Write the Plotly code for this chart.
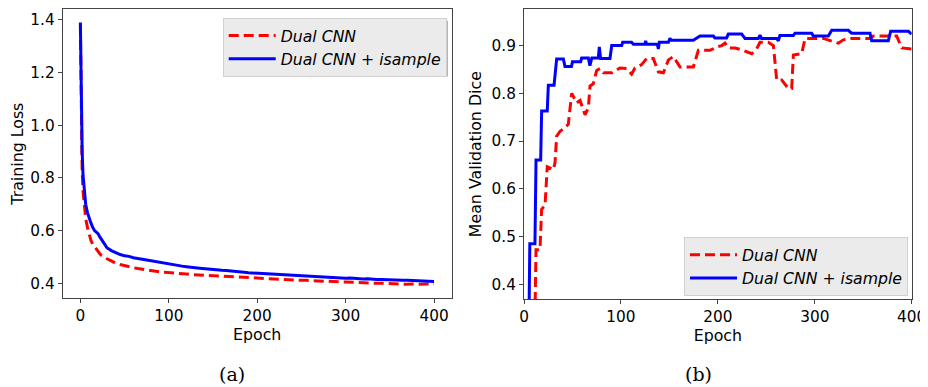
import plotly.graph_objects as go

# ---------------- Data: (a) training loss ----------------
loss_epochs = [0, 1, 2, 3, 4, 5, 6, 8, 10, 12, 14, 16, 18, 20, 22, 24, 26, 28] + list(range(30, 401, 5))
loss_dual = [1.38, 1.00, 0.83, 0.75, 0.705, 0.67, 0.645, 0.612, 0.585, 0.562, 0.548, 0.538, 0.528, 0.520, 0.512, 0.505, 0.500, 0.496,
             0.493, 0.485, 0.476, 0.471, 0.466, 0.463, 0.459, 0.456, 0.453, 0.451, 0.447, 0.446, 0.443, 0.442, 0.441, 0.438,
             0.437, 0.436, 0.435, 0.433, 0.432, 0.432, 0.430, 0.429, 0.428, 0.428, 0.426, 0.427, 0.425, 0.424, 0.423, 0.423,
             0.421, 0.421, 0.419, 0.419, 0.418, 0.417, 0.416, 0.415, 0.414, 0.414, 0.413, 0.412, 0.411, 0.411, 0.410, 0.409,
             0.408, 0.408, 0.407, 0.406, 0.406, 0.405, 0.405, 0.404, 0.403, 0.403, 0.402, 0.401, 0.401, 0.400, 0.400, 0.399,
             0.398, 0.399, 0.397, 0.397, 0.396, 0.397, 0.396, 0.396, 0.397, 0.396, 0.397]
loss_isample = [1.39, 1.08, 0.90, 0.81, 0.76, 0.725, 0.700, 0.668, 0.645, 0.628, 0.612, 0.600, 0.594, 0.588, 0.576, 0.565, 0.556, 0.546,
                0.535, 0.524, 0.516, 0.509, 0.504, 0.502, 0.497, 0.495, 0.491, 0.488, 0.485, 0.481, 0.478, 0.476, 0.472, 0.469,
                0.466, 0.465, 0.463, 0.460, 0.459, 0.457, 0.455, 0.454, 0.452, 0.451, 0.449, 0.448, 0.447, 0.446, 0.443, 0.442,
                0.440, 0.439, 0.437, 0.436, 0.435, 0.436, 0.434, 0.432, 0.431, 0.431, 0.429, 0.428, 0.427, 0.428, 0.426, 0.425,
                0.424, 0.424, 0.422, 0.422, 0.421, 0.420, 0.419, 0.420, 0.418, 0.417, 0.416, 0.417, 0.415, 0.414, 0.414, 0.413,
                0.413, 0.412, 0.412, 0.411, 0.411, 0.410, 0.410, 0.409, 0.409, 0.408, 0.407]

# ---------------- Data: (b) validation dice ----------------
dice_dual_x = [11, 12.4, 16.5, 18.2, 21.7, 24, 30.3, 32, 33.7, 37, 43.3, 45.7, 49.2, 54.3, 57.8, 63, 66.4, 68.1, 71.5, 75,
               78.4, 81.9, 90.5, 99, 106, 111, 114.5, 121.4, 126.6, 133.4, 138.6, 143.8, 149, 154, 161, 174.7, 179.9, 192,
               198.8, 204, 207.4, 210.8, 217.7, 226.3, 235, 240, 243.5, 252, 257.3, 260.7, 265.9, 272.7, 276.2, 277.9,
               286.5, 290, 308.8, 315.7, 324.3, 329.5, 338.1, 357, 360.4, 384.5, 389.7, 400]
dice_dual_y = [0.30, 0.472, 0.472, 0.557, 0.565, 0.646, 0.640, 0.655, 0.710, 0.720, 0.730, 0.735, 0.800, 0.780, 0.785, 0.755,
               0.770, 0.815, 0.820, 0.848, 0.852, 0.843, 0.843, 0.853, 0.852, 0.840, 0.853, 0.860, 0.873, 0.873, 0.845, 0.843,
               0.870, 0.877, 0.855, 0.855, 0.890, 0.890, 0.897, 0.900, 0.905, 0.895, 0.895, 0.890, 0.883, 0.893, 0.907, 0.907,
               0.900, 0.828, 0.828, 0.810, 0.810, 0.880, 0.883, 0.915, 0.915, 0.910, 0.905, 0.912, 0.915, 0.915, 0.920, 0.920,
               0.895, 0.893]
dice_isample_x = [5, 6, 11.3, 12.4, 17.2, 18.2, 24, 25.1, 31, 32, 33.7, 40.6, 42.3, 49, 50, 58.5, 59.5, 66.4, 68, 70, 76.7,
                  77.7, 79, 88.7, 90.5, 100.8, 101.8, 111, 112.8, 124.8, 125.5, 126.5, 137.6, 138.6, 139.6, 149, 150.6, 152,
                  174.7, 181.6, 195.4, 197, 209, 210.8, 224.6, 228, 241.8, 243.5, 245, 260.7, 262.4, 264, 277.9, 279.6, 296.8,
                  298.5, 314, 317.5, 334.6, 338, 357, 358.7, 375.9, 378.3, 396.6, 400]
dice_isample_y = [0.30, 0.485, 0.485, 0.660, 0.660, 0.763, 0.763, 0.817, 0.817, 0.835, 0.872, 0.872, 0.856, 0.856, 0.866,
                  0.866, 0.874, 0.874, 0.858, 0.874, 0.874, 0.897, 0.873, 0.873, 0.900, 0.900, 0.907, 0.907, 0.903, 0.903,
                  0.910, 0.903, 0.903, 0.893, 0.907, 0.907, 0.915, 0.911, 0.911, 0.920, 0.920, 0.916, 0.916, 0.924, 0.924,
                  0.915, 0.915, 0.922, 0.915, 0.915, 0.910, 0.921, 0.921, 0.926, 0.926, 0.920, 0.920, 0.932, 0.932, 0.926,
                  0.926, 0.910, 0.910, 0.930, 0.930, 0.924]

series_names = ["<i>Dual CNN</i>", "<i>Dual CNN + isample</i>"]
x_ticks = [0, 100, 200, 300, 400]
loss_ticks = [0.4, 0.6, 0.8, 1.0, 1.2, 1.4]
dice_ticks = [0.4, 0.5, 0.6, 0.7, 0.8, 0.9]

RED = "#ff0000"
BLUE = "#0000ff"
FONT = "DejaVu Sans"
TICK_FS = 15.3
TITLE_FS = 15.8
LEGEND_FS = 15.7

W, H = 920, 379  # page body adds an 8px offset inside the 928x387 window


def px_x(x):
    return (x - 8) / W


def px_y(y):
    return 1 - (y - 8) / H


fig = go.Figure()
fig.add_trace(go.Scatter(x=loss_epochs, y=loss_dual, mode="lines", name=series_names[0],
                         line=dict(color=RED, width=3, dash="10px,5px"), xaxis="x", yaxis="y", legend="legend"))
fig.add_trace(go.Scatter(x=loss_epochs, y=loss_isample, mode="lines", name=series_names[1],
                         line=dict(color=BLUE, width=3), xaxis="x", yaxis="y", legend="legend"))
fig.add_trace(go.Scatter(x=dice_dual_x, y=dice_dual_y, mode="lines", name=series_names[0],
                         line=dict(color=RED, width=3, dash="10px,5px"), xaxis="x2", yaxis="y2", legend="legend2"))
fig.add_trace(go.Scatter(x=dice_isample_x, y=dice_isample_y, mode="lines", name=series_names[1],
                         line=dict(color=BLUE, width=3), xaxis="x2", yaxis="y2", legend="legend2"))

title_font = dict(family=FONT, size=TITLE_FS, color="black")
axis_common = dict(showline=True, linecolor="#444", linewidth=1, mirror=True, ticks="outside", ticklen=4,
                   tickcolor="#444", showgrid=False, zeroline=False, automargin=False,
                   tickfont=dict(family=FONT, size=TICK_FS, color="black"))

legend_common = dict(bgcolor="#ebebeb", bordercolor="#d0d0d0", borderwidth=1,
                     font=dict(family=FONT, size=LEGEND_FS, color="black"), itemwidth=47,
                     xanchor="left", yanchor="top", tracegroupgap=0)

# legend drop shadows (boxes measured in window pixels)
shadow_boxes = [(222.7, 17.7, 445, 73.3), (684, 237, 905, 292)]
shapes = []
for (x0, y0, x1, y1) in shadow_boxes:
    shapes.append(dict(type="rect", xref="paper", yref="paper",
                       x0=px_x(x0 + 3), x1=px_x(x1 + 3), y0=px_y(y1 + 3), y1=px_y(y0 + 3),
                       fillcolor="#b4b4b4", line=dict(width=0), layer="above"))

fig.update_layout(
    width=W, height=H,
    margin=dict(l=0, r=0, t=0, b=0),
    paper_bgcolor="white", plot_bgcolor="white",
    showlegend=True,
    xaxis=dict(domain=[px_x(62.7), px_x(451.7)], range=[-20, 420], tickvals=x_ticks, anchor="y",
               title=dict(text="Epoch", font=title_font, standoff=4), **axis_common),
    yaxis=dict(domain=[px_y(298), px_y(9.3)], range=[0.344, 1.44], tickvals=loss_ticks, tickformat=".1f", anchor="x",
               title=dict(text="Training Loss", font=title_font, standoff=6), **axis_common),
    xaxis2=dict(domain=[px_x(524), px_x(911.7)], range=[0, 400], tickvals=x_ticks, anchor="y2",
                title=dict(text="Epoch", font=title_font, standoff=4), **axis_common),
    yaxis2=dict(domain=[px_y(299), px_y(9.3)], range=[0.369, 0.976], tickvals=dice_ticks, tickformat=".1f", anchor="x2",
                title=dict(text="Mean Validation Dice", font=title_font, standoff=6), **axis_common),
    legend=dict(x=px_x(222.7), y=px_y(17.7), **legend_common),
    legend2=dict(x=px_x(684), y=px_y(237), **legend_common),
    shapes=shapes,
    annotations=[
        dict(text="(a)", x=px_x(232), y=px_y(374), xref="paper", yref="paper", showarrow=False,
             xanchor="center", yanchor="middle",
             font=dict(family="DejaVu Serif", size=19, color="black")),
        dict(text="(b)", x=px_x(698), y=px_y(374), xref="paper", yref="paper", showarrow=False,
             xanchor="center", yanchor="middle",
             font=dict(family="DejaVu Serif", size=19, color="black")),
    ],
)

fig.write_html("out.html")
